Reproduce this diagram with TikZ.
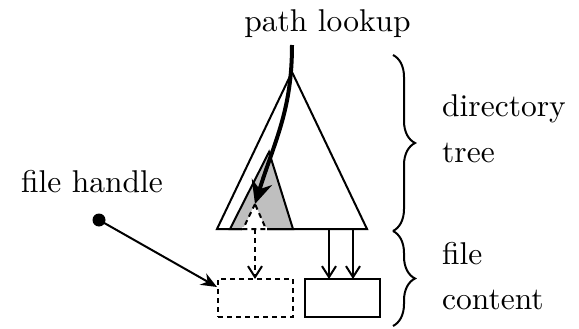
\documentclass[tikz,border=0pt]{standalone}
\usepackage{fontspec}
\setmainfont{lmroman10-regular}[Extension=.otf]
\usetikzlibrary{arrows.meta,decorations.pathreplacing}

\tikzset{
  edge/.style={line width=2pt, line join=miter},
  dashline/.style={line width=2pt, dash pattern=on 5pt off 4pt},
  box/.style={draw, line width=2pt, minimum width=75pt, minimum height=38pt,
              inner sep=0pt, outer sep=0pt},
  dashbox/.style={box, dash pattern=on 5pt off 4pt},
  barb/.style={-{Straight Barb[length=11pt,width=14pt]}},
  lbl/.style={inner sep=0pt, font=\fontsize{31.5pt}{45pt}\selectfont},
  bracket/.style={decorate, decoration={brace, amplitude=22pt}, line width=2pt}
}

\begin{document}
\begin{tikzpicture}[x=1pt, y=-1pt]
  \useasboundingbox (0,0) rectangle (579,329);

  % directory tree
  \coordinate (apex) at (292,72);
  \coordinate (bl) at (217,229);
  \coordinate (br) at (367,229);
  \draw[edge] (apex) -- (bl) -- (br) -- cycle;

  % shaded subtree
  \coordinate (sapex) at (269,152);
  \coordinate (sl) at (230,229);
  \coordinate (sr) at (293,229);
  \filldraw[edge, fill=gray!50] (sapex) -- (sl) -- (sr) -- cycle;

  % the looked-up file inside the subtree
  \coordinate (fapex) at (255,204);
  \coordinate (fl) at (243,229);
  \coordinate (fr) at (266,229);
  \fill[white] (242,227) rectangle (267,231);
  \filldraw[dashline, fill=white] (fapex) -- (fl) -- (fr) -- cycle;

  % file contents
  \node[dashbox] (dh) at (255.5,298) {};
  \node[box] (fc) at (342.5,298) {};

  \coordinate (fbase) at (255,229);
  \draw[dashline, barb] (fbase) -- (fbase |- dh.north);
  \coordinate (o1) at (329,229);
  \coordinate (o2) at (353,229);
  \draw[edge, barb] (o1) -- (o1 |- fc.north);
  \draw[edge, barb] (o2) -- (o2 |- fc.north);

  % path lookup
  \node[lbl, anchor=base] (pl) at (327.5,32) {path lookup};
  \coordinate (lk) at (292,45);
  \draw[line width=4pt, -{Stealth[length=23pt,width=21pt]}]
    (lk) .. controls (292,110) and (275,140) .. (fapex);

  % file handle
  \node[lbl, anchor=base west] (fhl) at (21,192) {file handle};
  \node[circle, fill, inner sep=0pt, minimum size=13pt] (fh) at (99,220) {};
  \coordinate (fhtip) at (217,287);
  \draw[line width=2pt, -{Stealth[length=16pt,width=13pt]}] (fh.center) -- (fhtip);

  % braces and their labels
  \coordinate (b1) at (393,55);
  \coordinate (b2) at (393,231);
  \coordinate (b3) at (393,326);
  \draw[bracket] (b1) -- (b2);
  \draw[bracket] (b2) -- (b3);

  \node[lbl, anchor=base west] (t1) at (442,117) {directory};
  \node[lbl, anchor=base west] (t2) at (442,162) {tree};
  \node[lbl, anchor=base west] (t3) at (442,264) {file};
  \node[lbl, anchor=base west] (t4) at (442,309) {content};
\end{tikzpicture}
\end{document}
